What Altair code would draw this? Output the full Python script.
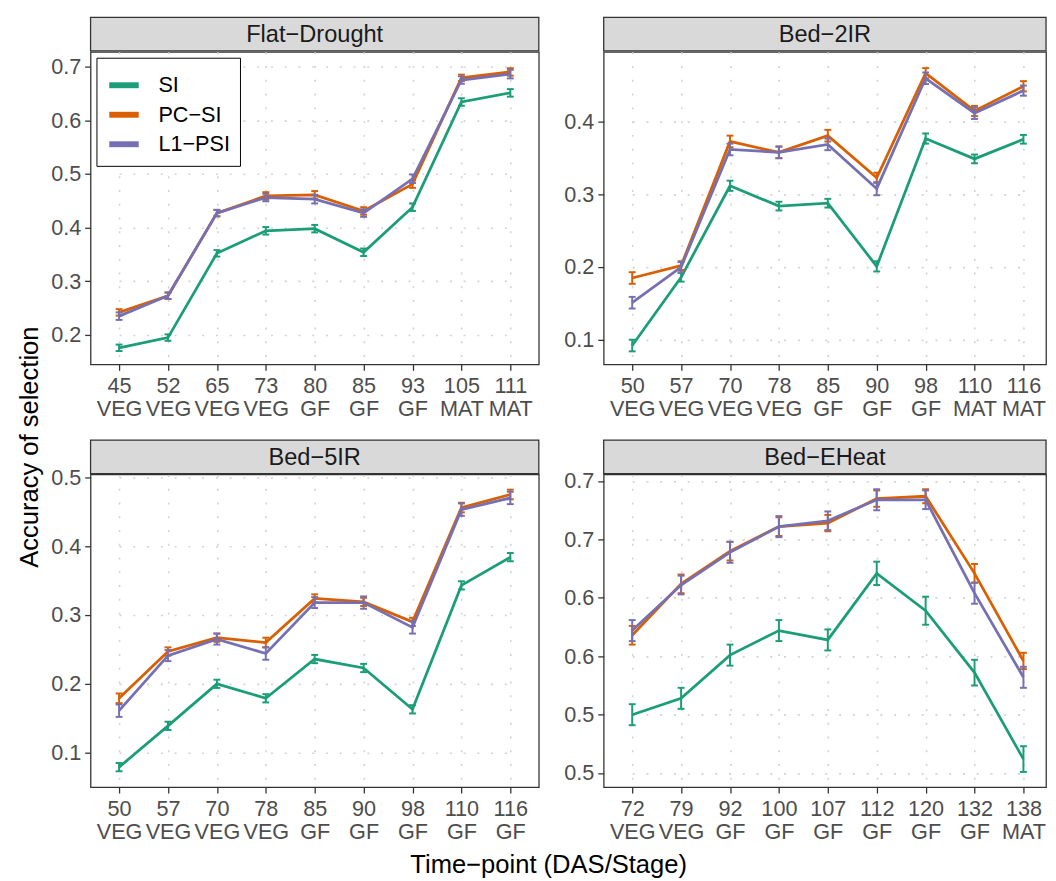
import altair as alt
import pandas as pd

FONT = "Liberation Sans"
series = ["SI", "PC−SI", "L1−PSI"]
colors = ["#1b9e77", "#d95f02", "#7570b3"]

# ---- Flat-Drought ----
fd_das = [45, 52, 65, 73, 80, 85, 93, 105, 111]
fd_stage = ["VEG", "VEG", "VEG", "VEG", "GF", "GF", "GF", "MAT", "MAT"]
fd_si = [0.176, 0.195, 0.352, 0.394, 0.398, 0.354, 0.438, 0.634, 0.651]
fd_pc = [0.242, 0.273, 0.427, 0.459, 0.461, 0.431, 0.481, 0.679, 0.690]
fd_l1 = [0.235, 0.273, 0.427, 0.456, 0.453, 0.427, 0.491, 0.675, 0.686]
fd_si_se = [0.006, 0.006, 0.006, 0.007, 0.007, 0.007, 0.007, 0.007, 0.007]
fd_pc_se = [0.006, 0.006, 0.006, 0.007, 0.007, 0.007, 0.007, 0.006, 0.007]
fd_l1_se = [0.007, 0.006, 0.006, 0.007, 0.008, 0.007, 0.008, 0.007, 0.008]

# ---- Bed-2IR ----
b2_das = [50, 57, 70, 78, 85, 90, 98, 110, 116]
b2_stage = ["VEG", "VEG", "VEG", "VEG", "GF", "GF", "GF", "MAT", "MAT"]
b2_si = [0.092, 0.186, 0.312, 0.284, 0.288, 0.201, 0.377, 0.349, 0.376]
b2_pc = [0.185, 0.202, 0.373, 0.358, 0.381, 0.323, 0.467, 0.415, 0.449]
b2_l1 = [0.151, 0.200, 0.362, 0.358, 0.369, 0.308, 0.460, 0.412, 0.443]
b2_si_se = [0.008, 0.006, 0.007, 0.006, 0.006, 0.007, 0.007, 0.006, 0.006]
b2_pc_se = [0.008, 0.006, 0.008, 0.008, 0.008, 0.007, 0.007, 0.007, 0.007]
b2_l1_se = [0.008, 0.007, 0.008, 0.008, 0.008, 0.009, 0.008, 0.008, 0.007]

# ---- Bed-5IR ----
b5_das = [50, 57, 70, 78, 85, 90, 98, 110, 116]
b5_stage = ["VEG", "VEG", "VEG", "VEG", "GF", "GF", "GF", "GF", "GF"]
b5_si = [0.079, 0.139, 0.200, 0.179, 0.236, 0.223, 0.163, 0.343, 0.384]
b5_pc = [0.179, 0.247, 0.267, 0.260, 0.324, 0.319, 0.290, 0.456, 0.475]
b5_l1 = [0.161, 0.241, 0.265, 0.244, 0.318, 0.318, 0.282, 0.453, 0.470]
b5_si_se = [0.006, 0.006, 0.006, 0.006, 0.006, 0.006, 0.006, 0.006, 0.006]
b5_pc_se = [0.007, 0.006, 0.006, 0.007, 0.006, 0.006, 0.006, 0.007, 0.007]
b5_l1_se = [0.009, 0.008, 0.008, 0.009, 0.008, 0.009, 0.009, 0.009, 0.009]

# ---- Bed-EHeat ----
eh_das = [72, 79, 92, 100, 107, 112, 120, 132, 138]
eh_stage = ["VEG", "VEG", "GF", "GF", "GF", "GF", "GF", "GF", "MAT"]
eh_si = [0.550, 0.564, 0.601, 0.622, 0.614, 0.671, 0.639, 0.586, 0.512]
eh_pc = [0.618, 0.662, 0.690, 0.711, 0.714, 0.735, 0.737, 0.671, 0.596]
eh_l1 = [0.622, 0.661, 0.689, 0.711, 0.716, 0.734, 0.734, 0.654, 0.582]
eh_si_se = [0.009, 0.009, 0.009, 0.009, 0.009, 0.010, 0.012, 0.011, 0.011]
eh_pc_se = [0.008, 0.008, 0.008, 0.008, 0.007, 0.007, 0.006, 0.008, 0.007]
eh_l1_se = [0.009, 0.008, 0.009, 0.009, 0.008, 0.009, 0.008, 0.009, 0.009]

PANEL_H = 318
X_RANGE = [29, 427]


def make_df(das, stage, vals, errs):
    rows = []
    for s, v_list, e_list in zip(series, vals, errs):
        for d, st, v, e in zip(das, stage, v_list, e_list):
            rows.append({"cat": f"{d}\n{st}", "series": s, "value": v,
                         "lo": v - e, "hi": v + e})
    return pd.DataFrame(rows)


def panel(name, das, stage, vals, errs, domain, ticks, width, show_legend):
    df = make_df(das, stage, vals, errs)
    cats = [f"{d}\n{st}" for d, st in zip(das, stage)]
    xenc = alt.X("cat:N", sort=cats,
                 scale=alt.Scale(type="point", range=X_RANGE, padding=0),
                 axis=alt.Axis(title=None, labelExpr="split(datum.label, '\\n')",
                               labelAngle=0, labelLineHeight=23, labelPadding=6,
                               labelBaseline="top"))
    yscale = alt.Scale(domain=domain, nice=False, zero=False)
    yaxis = alt.Axis(title=None, values=ticks,
                     labelExpr="format(floor(datum.value*10+1e-6)/10, '.1f')",
                     labelPadding=4)
    if show_legend:
        leg = alt.Legend(title=None, orient="top-left", offset=6, padding=10,
                         strokeColor="black", fillColor="white",
                         symbolType="stroke", symbolStrokeWidth=6, symbolSize=900,
                         labelFontSize=22, labelFont=FONT, labelColor="black",
                         labelOffset=17, rowPadding=0, symbolOpacity=1)
    else:
        leg = None
    cenc = alt.Color("series:N", scale=alt.Scale(domain=series, range=colors),
                     legend=leg)
    base = alt.Chart(df)
    layers = []
    for s in series:
        b = base.transform_filter(alt.datum.series == s)
        layers.append(b.mark_line(strokeWidth=2.8).encode(
            x=xenc, y=alt.Y("value:Q", scale=yscale, axis=yaxis), color=cenc))
        layers.append(b.mark_rule(strokeWidth=2).encode(
            x=xenc, y=alt.Y("lo:Q", scale=yscale, axis=yaxis), y2="hi:Q", color=cenc))
        layers.append(b.mark_tick(size=7, thickness=2, opacity=1).encode(
            x=xenc, y=alt.Y("lo:Q", scale=yscale, axis=yaxis), color=cenc))
        layers.append(b.mark_tick(size=7, thickness=2, opacity=1).encode(
            x=xenc, y=alt.Y("hi:Q", scale=yscale, axis=yaxis), color=cenc))
    strip_df = pd.DataFrame({"t": [name]})
    strip = alt.Chart(strip_df).mark_rect(fill="#d9d9d9", stroke="#333333",
                                          strokeWidth=1.3).encode(
        x=alt.value(0), x2=alt.value(width), y=alt.value(-35), y2=alt.value(-1))
    strip_txt = alt.Chart(strip_df).mark_text(fontSize=24, font=FONT,
                                              color="#1a1a1a", baseline="middle").encode(
        text="t:N", x=alt.value(width / 2), y=alt.value(-17))
    return alt.layer(*layers, strip, strip_txt).properties(
        width=width, height=PANEL_H).resolve_scale(color="shared")


p1 = panel("Flat−Drought", fd_das, fd_stage, [fd_si, fd_pc, fd_l1],
           [fd_si_se, fd_pc_se, fd_l1_se], [0.145, 0.7275],
           [0.2, 0.3, 0.4, 0.5, 0.6, 0.7], 456, True)
p2 = panel("Bed−2IR", b2_das, b2_stage, [b2_si, b2_pc, b2_l1],
           [b2_si_se, b2_pc_se, b2_l1_se], [0.066, 0.4964],
           [0.1, 0.2, 0.3, 0.4], 450, False)
p3 = panel("Bed−5IR", b5_das, b5_stage, [b5_si, b5_pc, b5_l1],
           [b5_si_se, b5_pc_se, b5_l1_se], [0.05, 0.504],
           [0.1, 0.2, 0.3, 0.4, 0.5], 456, False)
p4 = panel("Bed−EHeat", eh_das, eh_stage, [eh_si, eh_pc, eh_l1],
           [eh_si_se, eh_pc_se, eh_l1_se], [0.488, 0.7556],
           [0.5, 0.55, 0.6, 0.65, 0.7, 0.75], 450, False)

row1 = alt.hconcat(p1, p2, spacing=22).resolve_scale(color="independent").resolve_legend(color="independent")
row2 = alt.hconcat(p3, p4, spacing=22).resolve_scale(color="independent").resolve_legend(color="independent")
inner = alt.vconcat(row1, row2, spacing=18,
                    title=alt.Title("Time−point (DAS/Stage)", orient="bottom",
                                    fontSize=26, font=FONT, color="black",
                                    fontWeight="normal", anchor="middle", offset=10)
                    ).resolve_scale(color="independent").resolve_legend(color="independent")
chart = alt.hconcat(inner,
                    title=alt.Title("Accuracy of selection", orient="left",
                                    fontSize=26, font=FONT, color="black",
                                    fontWeight="normal", anchor="middle", offset=7)
                    ).resolve_scale(color="independent").resolve_legend(color="independent")

chart = chart.properties(
    padding={"left": 9, "top": 0, "right": 0, "bottom": 0},
    background="white",
).configure_view(
    stroke="#333333", strokeWidth=1.3
).configure_axis(
    domain=False, tickColor="#333333", tickSize=6, tickWidth=1.3,
    labelColor="#4d4d4d", labelFont=FONT, labelFontSize=22,
    grid=True, gridColor="#d2d2d2", gridDash=[2, 12], gridWidth=1.6
)

chart.save("out.html", embed_options={"renderer": "svg", "actions": False})
